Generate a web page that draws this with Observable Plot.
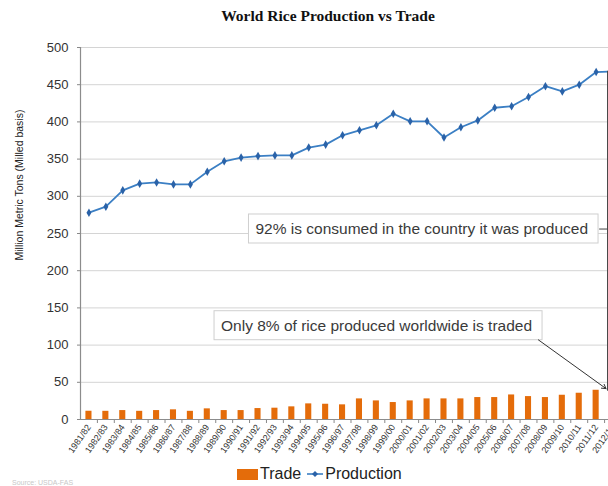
<!DOCTYPE html>
<html>
<head>
<meta charset="utf-8">
<script src="https://cdn.jsdelivr.net/npm/d3@7"></script>
<script src="https://cdn.jsdelivr.net/npm/@observablehq/plot@0.6"></script>
<style>
  html, body { margin: 0; padding: 0; background: #fff; }
  body { width: 608px; height: 486px; overflow: hidden; position: relative; font-family: Arial, "Liberation Sans", sans-serif; }
  #title { position: absolute; top: 7px; left: 0; width: 656px; text-align: center; font-family: "Times New Roman", "Liberation Serif", serif; font-weight: bold; font-size: 15.5px; color: #111; }
  #chart { position: absolute; top: 0; left: 0; width: 630px; }
  #chart svg { max-width: none !important; }
  #legend { position: absolute; top: 465px; left: 237px; display: flex; align-items: center; font-size: 16px; color: #222; }
  #legend .sw { display: inline-block; width: 21px; height: 11px; background: #e46c0a; margin-right: 2px; }
  #source { position: absolute; left: 12px; top: 479px; font-size: 7px; color: #c8c8c8; }
</style>
</head>
<body>
<div id="title">World Rice Production vs Trade</div>
<div id="chart"></div>
<div id="legend"><span class="sw"></span><span>Trade</span><svg width="16" height="12" style="margin-left:6px;margin-right:2px"><line x1="0" y1="6" x2="16" y2="6" stroke="#3b7fc4" stroke-width="1.6"/><path d="M8,3 L11,6 L8,9 L5,6 Z" fill="#2a62a8"/></svg><span>Production</span></div>
<div id="source">Source: USDA-FAS</div>
<script>
const years = ["1981/82","1982/83","1983/84","1984/85","1985/86","1986/87","1987/88","1988/89","1989/90","1990/91","1991/92","1992/93","1993/94","1994/95","1995/96","1996/97","1997/98","1998/99","1999/00","2000/01","2001/02","2002/03","2003/04","2004/05","2005/06","2006/07","2007/08","2008/09","2009/10","2010/11","2011/12","2012/13"];
const production = [278,286,308,317,318.6,316,316,333,347,352,354,355,355,365.5,369.5,382,388.7,395.4,411,400.8,400.8,379,392.8,402,419,421,433.4,448,441,450,467,468];
const trade = [11.1,11,12,11,12,13,11,14.3,12,12,14.7,15.2,17,21,20.5,19.7,27.7,25,22.8,25,27.7,27.7,27.7,29.5,29.5,33,30.8,29.5,32.6,35.3,39.3,38];
const yTicks = [0,50,100,150,200,250,300,350,400,450,500];
const yLabel = "Million Metric Tons (Milled basis)";
const note1 = "92% is consumed in the country it was produced";
const note2 = "Only 8% of rice produced worldwide is traded";

const data = years.map((y, i) => ({year: y, production: production[i], trade: trade[i]}));
const last = data[data.length - 1];

const plot = Plot.plot({
  width: 630,
  height: 460,
  marginTop: 47,
  marginBottom: 41,
  marginLeft: 80,
  marginRight: 9,
  style: {background: "transparent", fontFamily: "Arial, 'Liberation Sans', sans-serif", color: "#333", maxWidth: "none"},
  x: {domain: years, paddingInner: 0.64, paddingOuter: 0.32, align: 0.5, round: false, label: null},
  y: {domain: [0, 500], label: null},
  marks: [
    Plot.ruleY(yTicks.filter(d => d > 0), {stroke: "#d4d4d4", strokeWidth: 1}),
    Plot.axisY({ticks: yTicks, tickSize: 3, tickPadding: 9, fontSize: 13, stroke: "#888", label: null}),
    Plot.axisX({tickSize: 4, tickFormat: () => "", dx: 8.45, stroke: "#888", label: null}),
    Plot.axisX({tickSize: 0, tickPadding: 6, tickRotate: -55, fontSize: 9, label: null}),
    Plot.barY(data, {x: "year", y: "trade", fill: "#e46c0a"}),
    Plot.ruleY([0], {stroke: "#8c8c8c", strokeWidth: 1.2}),
    Plot.ruleX([years[0]], {dx: -8.45, stroke: "#8c8c8c", strokeWidth: 1.2}),
    Plot.line(data, {x: "year", y: "production", stroke: "#3b7fc4", strokeWidth: 1.8}),
    Plot.dot(data, {x: "year", y: "production", symbol: "diamond", r: 2.6, fill: "#2a62a8"}),
    Plot.text([yLabel], {text: d => d, frameAnchor: "left", dx: -61, dy: 27, rotate: -90, fontSize: 10.5, fill: "#222"}),
    Plot.ruleX([last], {x: "year", y1: "trade", y2: "production", dx: -5.5, stroke: "#444", strokeWidth: 1}),
    Plot.link([last], {x1: () => years[30], x2: "year", y1: () => 256, y2: () => 256, dx: 3, stroke: "#444", strokeWidth: 1}),
    Plot.text([note1], {text: d => d, x: () => years[31], y: () => 256, textAnchor: "end", dx: -25, fontSize: 15.5, fill: "#3a3a3a"}),
    Plot.text([note2], {text: d => d, x: () => years[31], y: () => 126, textAnchor: "end", dx: -81, fontSize: 15.5, fill: "#3a3a3a"}),
    Plot.arrow([last], {x1: () => years[27], y1: () => 107, x2: "year", y2: () => 41.5, dx: -7, stroke: "#333", strokeWidth: 1, headLength: 7})
  ]
});
document.getElementById("chart").appendChild(plot);

const svg = plot.tagName.toLowerCase() === "svg" ? plot : plot.querySelector("svg");
svg.querySelectorAll("text").forEach(t => {
  if (t.textContent === note1 || t.textContent === note2) {
    const b = t.getBBox();
    const rect = document.createElementNS("http://www.w3.org/2000/svg", "rect");
    const padX = 7, padY = 6;
    rect.setAttribute("x", b.x - padX);
    rect.setAttribute("y", b.y - padY);
    rect.setAttribute("width", b.width + padX * 2 + 3);
    rect.setAttribute("height", b.height + padY * 2);
    rect.setAttribute("fill", "#fff");
    rect.setAttribute("stroke", "#cfcfcf");
    rect.setAttribute("stroke-width", "1");
    const tr = t.getAttribute("transform");
    if (tr) rect.setAttribute("transform", tr);
    t.parentNode.insertBefore(rect, t);
  }
});
</script>
</body>
</html>
